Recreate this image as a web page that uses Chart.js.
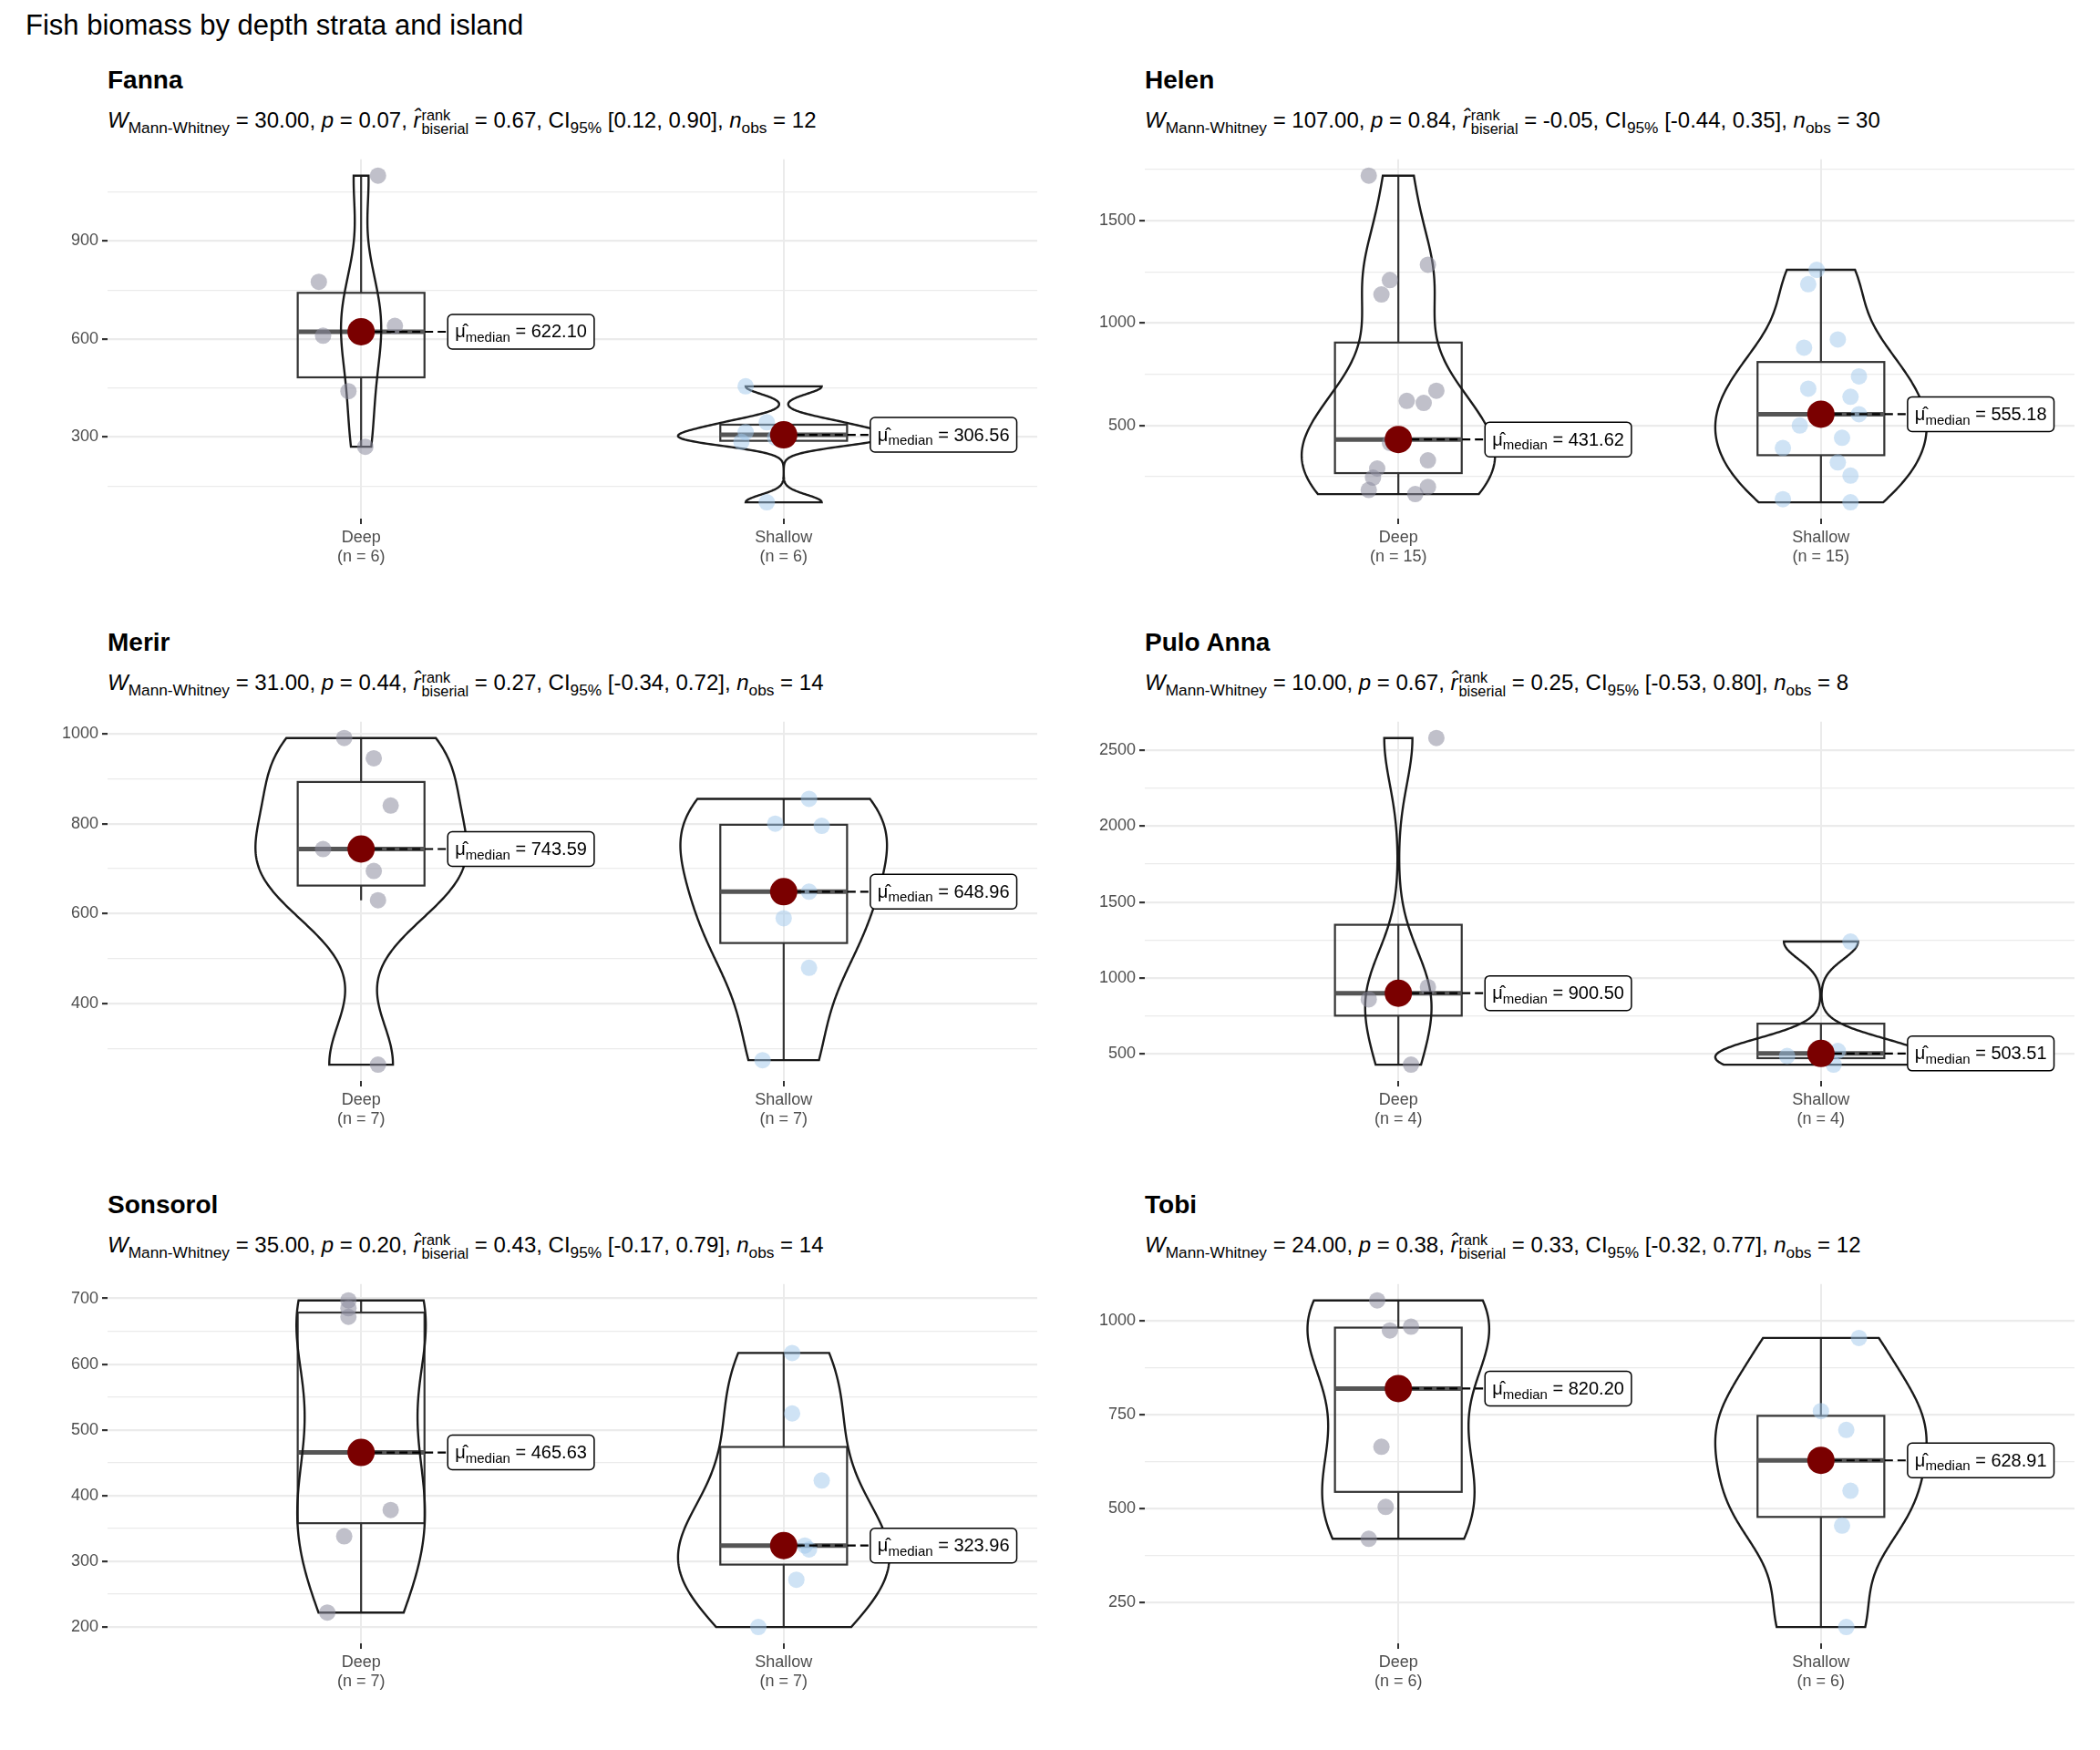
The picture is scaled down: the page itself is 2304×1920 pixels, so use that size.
<!DOCTYPE html>
<html>
<head>
<meta charset="utf-8">
<script src="https://cdn.jsdelivr.net/npm/chart.js@4.4.1/dist/chart.umd.min.js"></script>
<style>
  body { margin: 0; width: 2304px; height: 1920px; background: #fff; font-family: "Liberation Sans", Arial, sans-serif; position: relative; overflow: hidden; }
  #mainTitle { position: absolute; left: 28px; top: 10px; font-size: 31px; color: #000; }
  .ptitle { position: absolute; font-size: 28px; font-weight: bold; color: #000; }
  .psub { position: absolute; font-size: 24px; color: #000; white-space: nowrap; }
  .psub sub { font-size: 0.72em; vertical-align: -0.35em; line-height: 0; }
  .stack { display: inline-flex; flex-direction: column; font-size: 0.68em; vertical-align: 0.5em; line-height: 0.95; margin-left: 1px; }
  .panel { position: absolute; }
</style>
</head>
<body>
<div id="mainTitle">Fish biomass by depth strata and island</div>
<div id="root"></div>
<script>
// Data
const islands = ['Fanna', 'Helen', 'Merir', 'Pulo Anna', 'Sonsorol', 'Tobi'];
const groups = ['Deep', 'Shallow'];

const deepValues = [
    [270, 440, 610, 640, 775, 1100],
    [165, 185, 200, 245, 290, 330, 415, 431.62, 610, 620, 670, 1140, 1210, 1285, 1720],
    [265, 630, 695, 743.59, 840, 945, 990],
    [430, 860, 941, 2580],
    [222, 338, 378, 465.63, 672, 685, 697],
    [420, 505, 665, 975, 985, 1055]
];
const deepJitter = [
    [0.01, -0.03, -0.09, 0.08, -0.10, 0.04],
    [0.04, -0.07, 0.07, -0.06, -0.05, 0.07, -0.02, 0, 0.06, 0.02, 0.09, -0.04, -0.02, 0.07, -0.07],
    [0.04, 0.04, 0.03, -0.09, 0.07, 0.03, -0.04],
    [0.03, -0.07, 0.07, 0.09],
    [-0.08, -0.04, 0.07, 0, -0.03, -0.03, -0.03],
    [-0.07, -0.03, -0.04, -0.02, 0.03, -0.05]
];
const shallowValues = [
    [100, 285, 298, 315, 345, 455],
    [125, 140, 255, 320, 390, 440, 500, 555.18, 640, 680, 740, 880, 920, 1190, 1260],
    [275, 480, 590, 648.96, 795, 800, 855],
    [430, 487, 520, 1240],
    [200, 272, 318, 323.96, 423, 525, 617],
    [185, 455, 548, 710, 760, 955]
];
const shallowJitter = [
    [-0.04, -0.10, -0.02, -0.09, -0.04, -0.09],
    [0.07, -0.09, 0.07, 0.04, -0.09, 0.05, -0.05, 0.09, 0.07, -0.03, 0.09, -0.04, 0.04, -0.03, -0.01],
    [-0.05, 0.06, 0, 0.06, 0.09, -0.02, 0.06],
    [0.03, -0.08, 0.04, 0.07],
    [-0.06, 0.03, 0.06, 0.05, 0.09, 0.02, 0.02],
    [0.06, 0.05, 0.07, 0.06, 0, 0.09]
];
const deepMedians = [622.10, 431.62, 743.59, 900.50, 465.63, 820.20];
const shallowMedians = [306.56, 555.18, 648.96, 503.51, 323.96, 628.91];
const yTickSteps = [300, 500, 200, 500, 100, 250];

const wStat = ['30.00', '107.00', '31.00', '10.00', '35.00', '24.00'];
const pValue = ['0.07', '0.84', '0.44', '0.67', '0.20', '0.38'];
const rBiserial = ['0.67', '-0.05', '0.27', '0.25', '0.43', '0.33'];
const ciLow = ['0.12', '-0.44', '-0.34', '-0.53', '-0.17', '-0.32'];
const ciHigh = ['0.90', '0.35', '0.72', '0.80', '0.79', '0.77'];
const nObs = [12, 30, 14, 8, 14, 12];

// Layout (px)
const colLeft = [40, 1178];
const rowTop = [160, 777, 1394];
const AXIS_W = 78, PAD_TOP = 14, PLOT_H = 395, CANVAS_W = 1108, CANVAS_H = 490;

const deepPoint = 'rgba(140,140,158,0.55)';
const shallowPoint = 'rgba(160,200,236,0.5)';

function quantile(sorted, p) {
    const h = (sorted.length - 1) * p;
    const lo = Math.floor(h);
    const hi = Math.min(lo + 1, sorted.length - 1);
    return sorted[lo] + (h - lo) * (sorted[hi] - sorted[lo]);
}

function boxStats(vals) {
    const s = [...vals].sort((a, b) => a - b);
    const q1 = quantile(s, 0.25), q3 = quantile(s, 0.75);
    const iqr = q3 - q1;
    const lo = s.find(v => v >= q1 - 1.5 * iqr);
    const hi = [...s].reverse().find(v => v <= q3 + 1.5 * iqr);
    return { q1, q3, lo, hi };
}

function density(vals) {
    const s = [...vals].sort((a, b) => a - b);
    const n = s.length;
    const mean = s.reduce((a, b) => a + b, 0) / n;
    const sd = Math.sqrt(s.reduce((a, b) => a + (b - mean) ** 2, 0) / (n - 1));
    const iqr = quantile(s, 0.75) - quantile(s, 0.25);
    let lo = Math.min(sd, iqr / 1.34);
    if (!(lo > 0)) lo = sd || 1;
    const bw = 0.9 * lo * Math.pow(n, -0.2);
    const pts = [];
    const steps = 200;
    for (let i = 0; i <= steps; i++) {
        const y = s[0] + (s[n - 1] - s[0]) * i / steps;
        let d = 0;
        s.forEach(v => { d += Math.exp(-0.5 * ((y - v) / bw) ** 2); });
        pts.push({ y, d: d / (n * bw * Math.sqrt(2 * Math.PI)) });
    }
    return pts;
}

const violinBoxPlugin = {
    id: 'violinBox',
    beforeDatasetsDraw(chart, args, opts) {
        const { ctx, scales: { x, y } } = chart;
        const dens = opts.sets.map(density);
        const maxD = Math.max(...dens.flat().map(p => p.d));
        ctx.save();
        ctx.beginPath();
        ctx.rect(chart.chartArea.left, chart.chartArea.top, chart.chartArea.width, chart.chartArea.height);
        ctx.clip();
        opts.sets.forEach((vals, gi) => {
            const cx = gi + 1;
            const unit = x.getPixelForValue(1) - x.getPixelForValue(0);
            // box
            const b = boxStats(vals);
            const half = 0.15 * unit;
            const px = x.getPixelForValue(cx);
            ctx.strokeStyle = '#333333';
            ctx.lineWidth = 2.2;
            ctx.beginPath();
            ctx.moveTo(px, y.getPixelForValue(b.hi));
            ctx.lineTo(px, y.getPixelForValue(b.q3));
            ctx.moveTo(px, y.getPixelForValue(b.q1));
            ctx.lineTo(px, y.getPixelForValue(b.lo));
            ctx.stroke();
            ctx.strokeRect(px - half, y.getPixelForValue(b.q3), 2 * half, y.getPixelForValue(b.q1) - y.getPixelForValue(b.q3));
            ctx.strokeStyle = '#555555';
            ctx.lineWidth = 5;
            ctx.beginPath();
            const my = y.getPixelForValue(opts.medians[gi]);
            ctx.moveTo(px - half, my);
            ctx.lineTo(px + half, my);
            ctx.stroke();
            // violin
            const d = dens[gi];
            ctx.strokeStyle = '#1a1a1a';
            ctx.lineWidth = 2.4;
            ctx.beginPath();
            d.forEach((p, i) => {
                const xx = px + (p.d / maxD) * 0.25 * unit;
                const yy = y.getPixelForValue(p.y);
                i ? ctx.lineTo(xx, yy) : ctx.moveTo(xx, yy);
            });
            for (let i = d.length - 1; i >= 0; i--) {
                ctx.lineTo(px - (d[i].d / maxD) * 0.25 * unit, y.getPixelForValue(d[i].y));
            }
            ctx.closePath();
            ctx.stroke();
        });
        ctx.restore();
    },
    afterDatasetsDraw(chart, args, opts) {
        const { ctx, scales: { x, y } } = chart;
        const unit = x.getPixelForValue(1) - x.getPixelForValue(0);
        opts.medians.forEach((m, gi) => {
            const px = x.getPixelForValue(gi + 1);
            const py = y.getPixelForValue(m);
            const bx = px + 0.205 * unit;
            ctx.save();
            ctx.strokeStyle = '#000';
            ctx.lineWidth = 2.2;
            ctx.setLineDash([9, 5]);
            ctx.beginPath();
            ctx.moveTo(px, py);
            ctx.lineTo(bx, py);
            ctx.stroke();
            ctx.setLineDash([]);
            // red median dot
            ctx.fillStyle = '#7a0000';
            ctx.beginPath();
            ctx.arc(px, py, 15, 0, 2 * Math.PI);
            ctx.fill();
            // label
            const main = 'μ̂', sub = 'median', tail = ' = ' + m.toFixed(2);
            ctx.font = '20px "Liberation Sans", Arial, sans-serif';
            const w1 = ctx.measureText(main).width;
            const w3 = ctx.measureText(tail).width;
            ctx.font = '15px "Liberation Sans", Arial, sans-serif';
            const w2 = ctx.measureText(sub).width;
            const bw = w1 + w2 + w3 + 16, bh = 38;
            ctx.fillStyle = '#fff';
            ctx.strokeStyle = '#000';
            ctx.lineWidth = 1.5;
            ctx.beginPath();
            ctx.roundRect(bx, py - bh / 2, bw, bh, 5);
            ctx.fill();
            ctx.stroke();
            ctx.fillStyle = '#000';
            ctx.textBaseline = 'middle';
            ctx.font = '20px "Liberation Sans", Arial, sans-serif';
            ctx.fillText(main, bx + 8, py + 1);
            ctx.font = '15px "Liberation Sans", Arial, sans-serif';
            ctx.fillText(sub, bx + 8 + w1, py + 7);
            ctx.font = '20px "Liberation Sans", Arial, sans-serif';
            ctx.fillText(tail, bx + 8 + w1 + w2, py + 1);
            ctx.restore();
        });
    }
};

const root = document.getElementById('root');

islands.forEach((name, i) => {
    const col = i % 2, row = Math.floor(i / 2);
    const left = colLeft[col], top = rowTop[row];

    const t = document.createElement('div');
    t.className = 'ptitle';
    t.style.left = (left + AXIS_W) + 'px';
    t.style.top = (top - 88) + 'px';
    t.textContent = name;
    root.appendChild(t);

    const s = document.createElement('div');
    s.className = 'psub';
    s.style.left = (left + AXIS_W) + 'px';
    s.style.top = (top - 42) + 'px';
    s.innerHTML = `<i>W</i><sub>Mann-Whitney</sub> = ${wStat[i]}, <i>p</i> = ${pValue[i]}, <i>r̂</i><span class="stack"><span>rank</span><span>biserial</span></span> = ${rBiserial[i]}, CI<sub>95%</sub> [${ciLow[i]}, ${ciHigh[i]}], <i>n</i><sub>obs</sub> = ${nObs[i]}`;
    root.appendChild(s);

    const wrap = document.createElement('div');
    wrap.className = 'panel';
    wrap.style.left = left + 'px';
    wrap.style.top = top + 'px';
    wrap.style.width = CANVAS_W + 'px';
    wrap.style.height = CANVAS_H + 'px';
    const canvas = document.createElement('canvas');
    wrap.appendChild(canvas);
    root.appendChild(wrap);

    const deep = deepValues[i], shallow = shallowValues[i];
    const all = deep.concat(shallow);
    const lo = Math.min(...all), hi = Math.max(...all);
    const pad = (hi - lo) * 0.05;
    const step = yTickSteps[i];
    const nLabels = [deep.length, shallow.length];

    new Chart(canvas, {
        type: 'scatter',
        data: {
            datasets: [
                { data: deep.map((v, k) => ({ x: 1 + deepJitter[i][k], y: v })), backgroundColor: deepPoint, borderWidth: 0, pointRadius: 9 },
                { data: shallow.map((v, k) => ({ x: 2 + shallowJitter[i][k], y: v })), backgroundColor: shallowPoint, borderWidth: 0, pointRadius: 9 }
            ]
        },
        options: {
            responsive: true,
            maintainAspectRatio: false,
            animation: false,
            layout: { padding: { top: PAD_TOP, right: 10, left: 0, bottom: 0 } },
            plugins: {
                legend: { display: false },
                tooltip: { enabled: false },
                violinBox: { sets: [deep, shallow], medians: [deepMedians[i], shallowMedians[i]] }
            },
            scales: {
                x: {
                    type: 'linear', min: 0.4, max: 2.6,
                    afterBuildTicks: (ax) => { ax.ticks = [{ value: 1 }, { value: 2 }]; },
                    afterFit: (ax) => { ax.height = CANVAS_H - PAD_TOP - PLOT_H; },
                    grid: { color: '#ebebeb', lineWidth: 2, drawTicks: true, tickLength: 6, tickColor: '#333' },
                    border: { display: false },
                    ticks: {
                        color: '#4d4d4d', font: { size: 18, family: '"Liberation Sans", Arial, sans-serif' },
                        padding: 4,
                        callback: (v) => [groups[v - 1], `(n = ${nLabels[v - 1]})`]
                    }
                },
                y: {
                    min: lo - pad, max: hi + pad,
                    afterBuildTicks: (ax) => {
                        const h = step / 2, out = [];
                        for (let v = Math.ceil((lo - pad) / h) * h; v <= hi + pad; v += h) out.push({ value: v });
                        ax.ticks = out;
                    },
                    afterFit: (ax) => { ax.width = AXIS_W; },
                    grid: {
                        color: '#ebebeb',
                        lineWidth: (c) => (c.tick && Math.abs(c.tick.value / step - Math.round(c.tick.value / step)) < 1e-6) ? 2.2 : 1.2,
                        tickLength: 6,
                        tickColor: (c) => (c.tick && Math.abs(c.tick.value / step - Math.round(c.tick.value / step)) < 1e-6) ? '#333' : 'rgba(0,0,0,0)'
                    },
                    border: { display: false },
                    ticks: {
                        color: '#4d4d4d', font: { size: 18, family: '"Liberation Sans", Arial, sans-serif' },
                        padding: 4,
                        callback: (v) => Math.abs(v / step - Math.round(v / step)) < 1e-6 ? String(Math.round(v)) : ''
                    }
                }
            }
        },
        plugins: [violinBoxPlugin]
    });
});
</script>
</body>
</html>
